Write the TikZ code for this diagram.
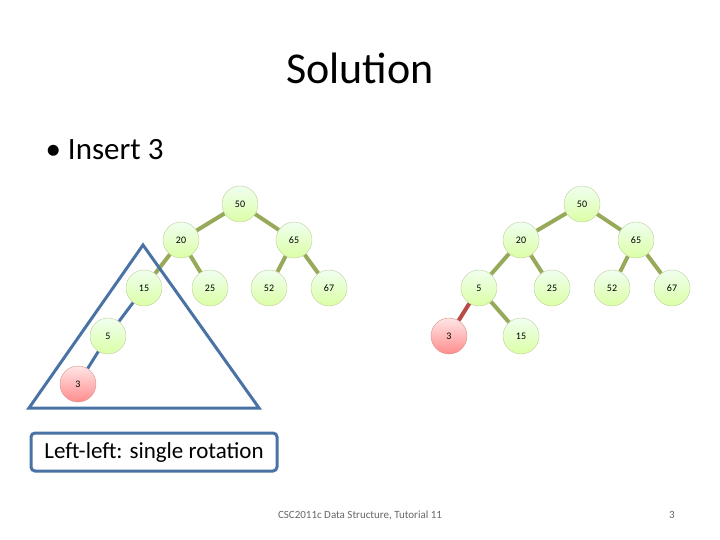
\documentclass[tikz,border=0pt]{standalone}
\usepackage{fontspec}
\setmainfont{Carlito}
\usetikzlibrary{backgrounds}
\definecolor{edgec}{RGB}{150,170,90}
\definecolor{bluec}{RGB}{74,115,165}
\definecolor{redc}{RGB}{185,75,70}
\begin{document}
\begin{tikzpicture}[x=1pt,y=-1pt,
  nd/.style={circle,minimum size=36pt,inner sep=0pt,draw=edgec!60,top color=green!6!white,bottom color=green!40!yellow!35!white,font=\fontsize{10}{11}\selectfont},
  rd/.style={nd,draw=redc!60,top color=red!10!white,bottom color=red!45!white},
  ed/.style={line width=4pt,color=edgec},
  rde/.style={line width=4pt,color=redc},
  bl/.style={line width=3pt,color=bluec}]
\useasboundingbox (0,0) rectangle (720,540);
\node (title) at (360,68) {\fontsize{44}{48}\selectfont Solution};
\node[anchor=west] (ins) at (42,150) {\fontsize{31}{34}\selectfont • Insert 3};
% left tree
\node[nd] (a50) at (240,204) {50};
\node[nd] (a20) at (181,240) {20};
\node[nd] (a65) at (294,240) {65};
\node[nd] (a15) at (144,288) {15};
\node[nd] (a25) at (210,288) {25};
\node[nd] (a52) at (269,288) {52};
\node[nd] (a67) at (329,288) {67};
\node[nd] (a5) at (108,336) {5};
\node[rd] (a3) at (78,384) {3};
% right tree
\node[nd] (b50) at (582,204) {50};
\node[nd] (b20) at (521,240) {20};
\node[nd] (b65) at (636,240) {65};
\node[nd] (b5) at (479,288) {5};
\node[nd] (b25) at (552,288) {25};
\node[nd] (b52) at (612,288) {52};
\node[nd] (b67) at (672,288) {67};
\node[rd] (b3) at (449,336) {3};
\node[nd] (b15) at (521,336) {15};
\begin{scope}[on background layer]
\draw[ed] (a50)--(a20); \draw[ed] (a50)--(a65);
\draw[ed] (a20)--(a15); \draw[ed] (a20)--(a25);
\draw[ed] (a65)--(a52); \draw[ed] (a65)--(a67);
\draw[bl] (a15)--(a5); \draw[bl] (a5)--(a3);
\draw[ed] (b50)--(b20); \draw[ed] (b50)--(b65);
\draw[ed] (b20)--(b5); \draw[ed] (b20)--(b25);
\draw[ed] (b65)--(b52); \draw[ed] (b65)--(b67);
\draw[rde] (b5)--(b3); \draw[ed] (b5)--(b15);
\end{scope}
\coordinate (t1) at (143,245); \coordinate (t2) at (29,408); \coordinate (t3) at (259,408);
\draw[bl,line join=miter] (t1)--(t2)--(t3)--cycle;
\node[draw=bluec,line width=3pt,rounded corners=4pt,fill=white,minimum width=246pt,minimum height=38pt,font=\fontsize{23}{26}\selectfont] (lbl) at (154,452) {Left-left: single rotation};
\node (foot) at (360,515) {\fontsize{11}{13}\selectfont\color{gray!80!black} CSC2011c Data Structure, Tutorial 11};
\node (pg) at (672,515) {\fontsize{11}{13}\selectfont\color{gray!80!black} 3};
\end{tikzpicture}
\end{document}
